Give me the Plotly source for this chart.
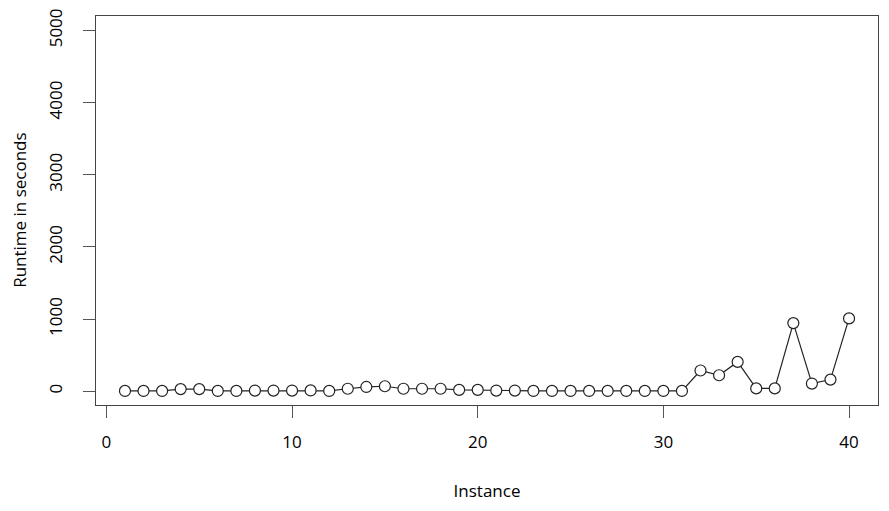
import plotly.graph_objects as go

# instance number and runtime (seconds)
instance = list(range(1, 41))
runtime = [5, 5, 5, 30, 30, 5, 5, 10, 10, 10,
           12, 5, 35, 60, 70, 35, 35, 35, 20, 20,
           10, 10, 5, 5, 5, 5, 5, 5, 5, 5,
           5, 288, 222, 407, 40, 40, 945, 107, 162, 1010]

x_ticks = [0, 10, 20, 30, 40]
y_ticks = [0, 1000, 2000, 3000, 4000, 5000]

font_family = "Open Sans, Noto Sans, sans-serif"

fig = go.Figure()
fig.add_trace(go.Scatter(
    x=instance,
    y=runtime,
    mode='lines+markers',
    line=dict(color='#222222', width=1.2),
    marker=dict(symbol='circle', size=11, color='white',
                line=dict(color='#222222', width=1.2)),
    showlegend=False,
))

axis_common = dict(
    showgrid=False,
    zeroline=False,
    showline=True,
    linecolor='#444444',
    linewidth=1.3,
    mirror=True,
    ticks='outside',
    ticklen=12,
    tickwidth=1,
    tickcolor='#555555',
    automargin=False,
    tickfont=dict(family=font_family, size=17, color='black'),
)

fig.update_xaxes(
    range=[-0.56, 41.56],
    tickvals=x_ticks,
    ticklabelstandoff=9,
    title=dict(text='Instance', font=dict(family=font_family, size=17, color='black'), standoff=33),
    **axis_common
)
fig.update_yaxes(
    range=[-190, 5200],
    tickvals=y_ticks,
    tickangle=-90,
    ticklabelstandoff=14,
    **axis_common
)

# y title as annotation so it can sit closer to the left edge
fig.add_annotation(
    text='Runtime in seconds',
    xref='paper', yref='paper',
    x=-0.098, y=0.5,
    xanchor='center', yanchor='middle',
    textangle=-90,
    showarrow=False,
    font=dict(family=font_family, size=17, color='black'),
)

# page body has an 8px margin, so the figure is 8px smaller each way
fig.update_layout(
    width=881,
    height=503,
    margin=dict(l=88, r=11, t=8, b=106),
    paper_bgcolor='white',
    plot_bgcolor='white',
    font=dict(family=font_family, color='black'),
)

fig.write_html("out.html")
